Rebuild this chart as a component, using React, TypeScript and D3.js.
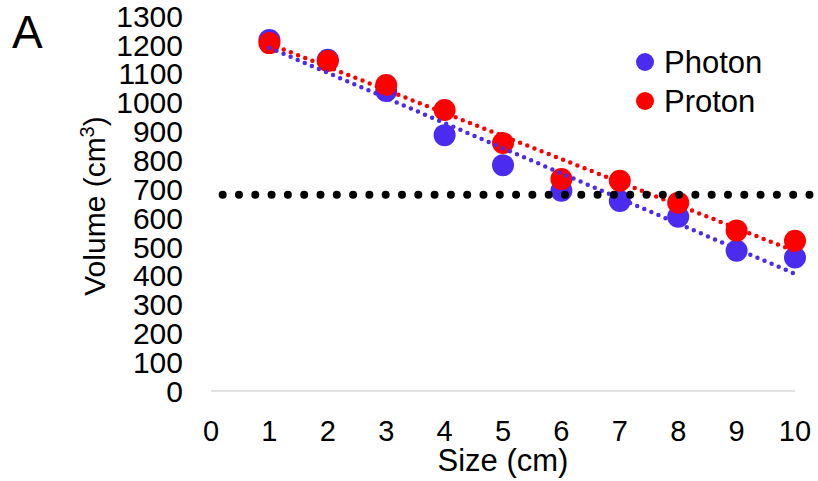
import React from "react";
import * as d3 from "d3";

const sizes = [1, 2, 3, 4, 5, 6, 7, 8, 9, 10];
const photon = [1217, 1148, 1040, 887, 783, 694, 659, 604, 486, 463];
const proton = [1206, 1144, 1061, 974, 860, 735, 729, 653, 556, 521];
const thresholdValue = 680;
const thresholdRange = [0.2, 10.35];
const xTicks = [0, 1, 2, 3, 4, 5, 6, 7, 8, 9, 10];
const yTicks = [0, 100, 200, 300, 400, 500, 600, 700, 800, 900, 1000, 1100, 1200, 1300];

const BLUE = "#4A2BEF";
const RED = "#FF0000";
const FONT = "'Liberation Sans', Arial, sans-serif";

function regression(xs: number[], ys: number[]) {
  const mx = d3.mean(xs)!;
  const my = d3.mean(ys)!;
  let num = 0, den = 0;
  xs.forEach((x, i) => { num += (x - mx) * (ys[i] - my); den += (x - mx) ** 2; });
  const slope = num / den;
  return (x: number) => my + slope * (x - mx);
}

export default function App() {
  const x = d3.scaleLinear().domain([0, 10]).range([211, 795]);
  const y = d3.scaleLinear().domain([0, 1300]).range([391, 16]);
  const line = d3.line<[number, number]>().x(d => x(d[0])).y(d => y(d[1]));
  const fb = regression(sizes, photon);
  const fr = regression(sizes, proton);
  const blueTrend: [number, number][] = [[1, fb(1)], [10, fb(10)]];
  const redTrend: [number, number][] = [[1, fr(1)], [10, fr(10)]];
  const thr: [number, number][] = [[thresholdRange[0], thresholdValue], [thresholdRange[1], thresholdValue]];

  return (
    <svg width={818} height={481} style={{ position: "absolute", left: 0, top: 0, background: "#fff" }} fontFamily={FONT}>
      <rect width={818} height={481} fill="#fff" />
      <text x={12} y={48} fontSize={46} fill="#000">A</text>
      <line x1={x(0)} x2={x(10)} y1={y(0)} y2={y(0)} stroke="#d9d9d9" strokeWidth={1.5} />
      {yTicks.map(t => (
        <text key={t} x={183} y={y(t)} dy="0.36em" textAnchor="end" fontSize={30} fill="#000">{t}</text>
      ))}
      {xTicks.map(t => (
        <text key={t} x={x(t)} y={441} textAnchor="middle" fontSize={29} fill="#000">{t}</text>
      ))}
      <text x={503} y={471} textAnchor="middle" fontSize={31} fill="#000">Size (cm)</text>
      <text transform="translate(105,206) rotate(-90)" textAnchor="middle" fontSize={30} fill="#000">
        Volume (cm<tspan fontSize={20} dy={-11}>3</tspan><tspan dy={11}>)</tspan>
      </text>
      {sizes.map((s, i) => (
        <circle key={"b" + i} cx={x(s)} cy={y(photon[i])} r={11} fill={BLUE} />
      ))}
      {sizes.map((s, i) => (
        <circle key={"r" + i} cx={x(s)} cy={y(proton[i])} r={11} fill={RED} />
      ))}
      <path d={line(blueTrend)!} stroke={BLUE} strokeWidth={4.5} strokeDasharray="0 7.7" strokeLinecap="round" fill="none" />
      <path d={line(redTrend)!} stroke={RED} strokeWidth={4.5} strokeDasharray="0 7.7" strokeLinecap="round" fill="none" />
      <path d={line(thr)!} stroke="#000" strokeWidth={8} strokeDasharray="0 16.3" strokeLinecap="round" fill="none" />
      <circle cx={645} cy={62} r={9} fill={BLUE} />
      <text x={664} y={73} fontSize={31} fill="#000">Photon</text>
      <circle cx={645} cy={101} r={9} fill={RED} />
      <text x={664} y={112} fontSize={31} fill="#000">Proton</text>
    </svg>
  );
}
